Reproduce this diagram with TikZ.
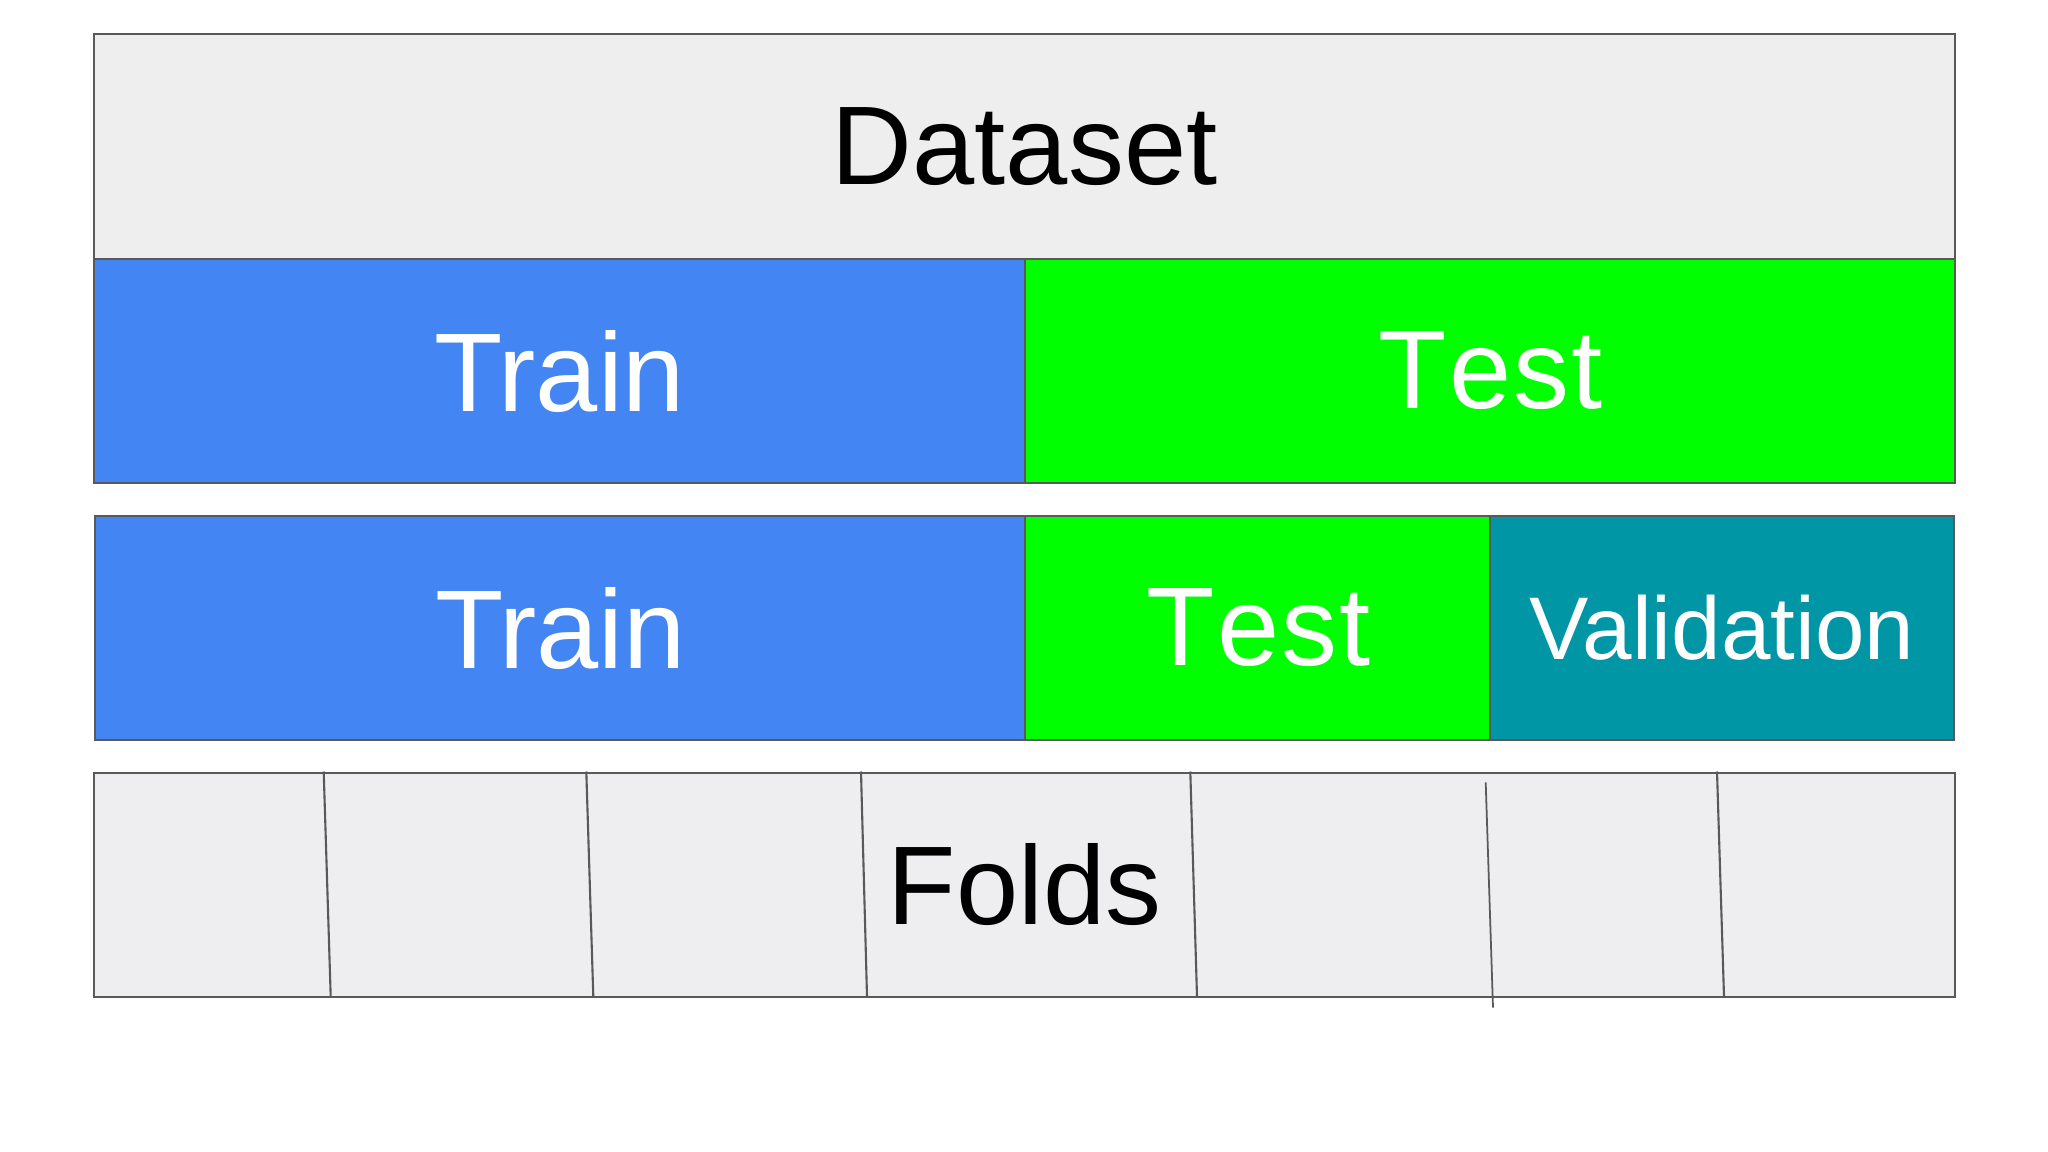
\documentclass[tikz,border=0pt]{standalone}
\usepackage{fontspec}
\setmainfont{Liberation Sans}
\definecolor{bordergray}{HTML}{595959}
\definecolor{cellgray}{HTML}{EEEEEE}
\definecolor{foldgray}{HTML}{EEEDF0}
\definecolor{trainblue}{HTML}{4485F4}
\definecolor{testgreen}{HTML}{00FF00}
\definecolor{valteal}{HTML}{0096A6}
\tikzset{
  cell/.style={draw=bordergray, line width=0.6pt, inner sep=0pt, anchor=north west,
    minimum height=2.245cm, font=\fontsize{31.8}{36}\selectfont},
  whitetext/.style={text=white},
  foldline/.style={draw=bordergray, line width=0.6pt},
}
\begin{document}
\begin{tikzpicture}[x=0.01cm, y=-0.01cm]
  \useasboundingbox[fill=white] (0,0) rectangle (2048,1152);
  % Row 1
  \node[cell, fill=cellgray, minimum width=18.60cm] (dataset) at (93,33.3) {Dataset};
  % Row 2
  \node[cell, fill=trainblue, whitetext, minimum width=9.31cm] (train1) at (93,257.7) {Train};
  \node[cell, fill=testgreen, whitetext, minimum width=9.29cm] (test1) at (1024,257.7) {\hspace{0.02em}T\hspace{0.02em}e\hspace{0.02em}s\hspace{0.02em}t};
  % Row 3
  \node[cell, fill=trainblue, whitetext, minimum width=9.297cm] (train2) at (94.3,514.7) {Train};
  \node[cell, fill=testgreen, whitetext, minimum width=4.647cm] (test2) at (1024,514.7) {\hspace{0.02em}T\hspace{0.02em}e\hspace{0.02em}s\hspace{0.02em}t};
  \node[cell, fill=valteal, whitetext, minimum width=4.643cm, font=\fontsize{25.3}{30}\selectfont] (val) at (1488.7,514.7) {Validation};
  % Row 4
  \node[cell, fill=foldgray, minimum width=18.60cm] (folds) at (93,771.5) {};
  \draw[foldline] (323.7,771.5) -- (330.7,996.5);
  \draw[foldline] (586.3,771.5) -- (593.3,996.5);
  \draw[foldline] (861,771.5) -- (867,996.5);
  \draw[foldline] (1190.3,771.5) -- (1197,996.5);
  \draw[foldline, line width=0.5pt] (1485.7,782.3) -- (1493,1007.7);
  \draw[foldline] (1717,771.5) -- (1724,996.5);
  \node[font=\fontsize{31.8}{36}\selectfont, inner sep=0pt] (foldslabel) at (folds.center) {Folds};
\end{tikzpicture}
\end{document}
